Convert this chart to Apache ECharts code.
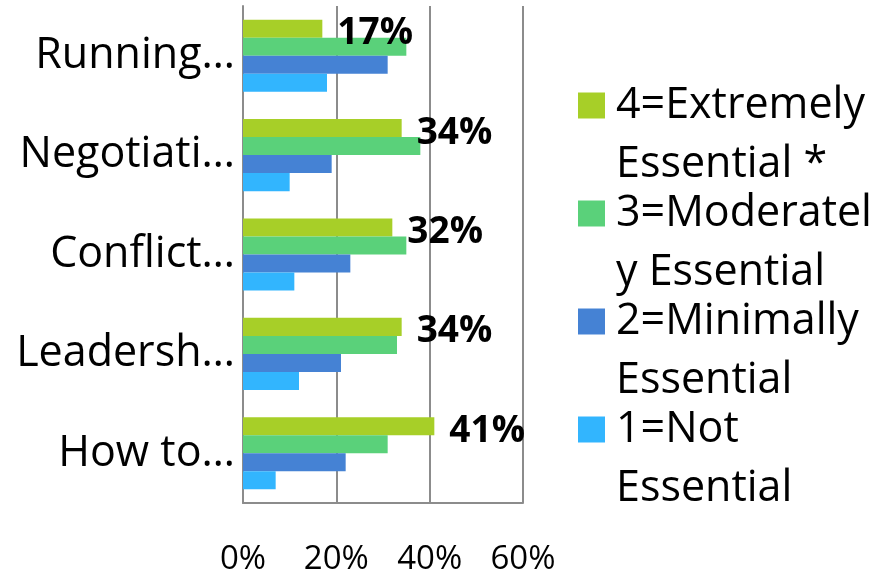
<!DOCTYPE html>
<html>
<head>
<meta charset="utf-8">
<script src="https://cdn.jsdelivr.net/npm/echarts@6/dist/echarts.min.js"></script>
<style>
  html, body { margin: 0; padding: 0; background: #fff; }
  #chart { width: 879px; height: 578px; }
</style>
</head>
<body>
<div id="chart"></div>
<script>
// Survey topics (top to bottom) and share of responses per rating
const categories = ['Running…', 'Negotiati…', 'Conflict…', 'Leadersh…', 'How to…'];
const extremely = [17, 34, 32, 34, 41];
const moderately = [35, 38, 35, 33, 31];
const minimally = [31, 19, 23, 21, 22];
const notEssential = [18, 10, 11, 12, 7];
const seriesNames = ['4=Extremely\nEssential *', '3=Moderatel\ny Essential', '2=Minimally\nEssential', '1=Not\nEssential'];
const xTicks = { min: 0, max: 60, interval: 20 };

const FONT = '"Open Sans", "Noto Sans", sans-serif';
const colors = ['#a7cf28', '#5ad17a', '#4582d4', '#32b5fe'];
const gridColor = '#8c8c8c';

const chart = echarts.init(document.getElementById('chart'));

const valueSets = [extremely, moderately, minimally, notEssential];
const series = valueSets.map((vals, i) => ({
  name: seriesNames[i],
  type: 'bar',
  data: vals,
  barGap: '0%',
  barCategoryGap: '27.5%',
  itemStyle: { color: colors[i] },
  label: i === 0 ? {
    show: true,
    position: 'right',
    distance: 15,
    offset: [0, 5],
    formatter: '{c}%',
    fontFamily: FONT,
    fontWeight: 'bold',
    fontSize: 37,
    color: '#000'
  } : { show: false },
  emphasis: { disabled: true }
}));

chart.setOption({
  animation: false,
  color: colors,
  grid: { left: 243, right: 356, top: 6, bottom: 75 },
  legend: {
    orient: 'vertical',
    left: 578,
    top: 17,
    padding: 0,
    itemWidth: 27,
    itemHeight: 26,
    itemGap: -69,
    icon: 'rect',
    data: seriesNames,
    // a blank first line keeps the swatch level with the first text line
    formatter: name => '\n' + name,
    textStyle: {
      fontFamily: FONT,
      fontSize: 43,
      lineHeight: 59,
      color: '#000',
      padding: [0, 0, 0, 6]
    }
  },
  xAxis: {
    type: 'value',
    min: xTicks.min,
    max: xTicks.max,
    interval: xTicks.interval,
    axisLine: { show: true, lineStyle: { color: gridColor, width: 2 } },
    axisTick: { show: false },
    splitLine: { show: true, lineStyle: { color: gridColor, width: 2 } },
    axisLabel: {
      formatter: '{value}%',
      fontFamily: FONT,
      fontSize: 33,
      color: '#000',
      margin: 40
    }
  },
  yAxis: {
    type: 'category',
    data: categories,
    inverse: true,
    axisLine: { show: true, lineStyle: { color: gridColor, width: 2 } },
    axisTick: { show: false },
    axisLabel: {
      fontFamily: FONT,
      fontSize: 43,
      color: '#000',
      margin: 8
    }
  },
  series: series
});
</script>
</body>
</html>
